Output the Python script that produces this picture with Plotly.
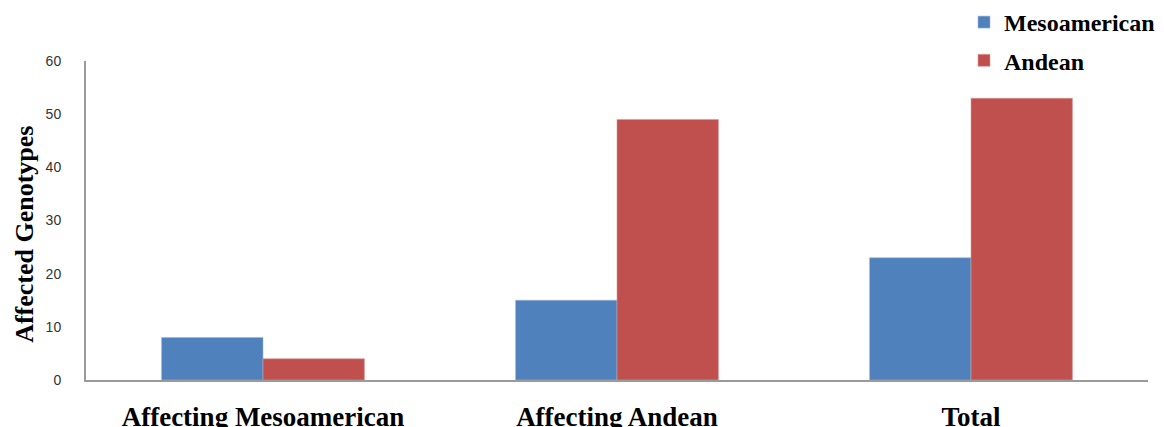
import plotly.graph_objects as go

# Affected genotypes per category, by gene pool
categories = ["Affecting Mesoamerican", "Affecting Andean", "Total"]
mesoamerican = [8, 15, 23]
andean = [4, 49, 53]
y_ticks = [0, 10, 20, 30, 40, 50, 60]

BLUE = "#4F81BD"
RED = "#C0504D"
SERIF = "Liberation Serif, Times New Roman, serif"
SANS = "Liberation Sans, Arial, sans-serif"

fig = go.Figure()
fig.add_trace(go.Bar(
    name="Mesoamerican", x=categories, y=mesoamerican,
    marker=dict(color=BLUE, line=dict(color="#9db6d9", width=0.6)),
    legendgroup="m",
))
fig.add_trace(go.Bar(
    name="Andean", x=categories, y=andean,
    marker=dict(color=RED, line=dict(color="#dc9896", width=0.6)),
    legendgroup="a",
))

fig.update_layout(
    width=1164, height=427,
    margin=dict(l=86, r=16, t=61, b=47, autoexpand=False),
    paper_bgcolor="white", plot_bgcolor="white",
    barmode="group", bargap=0.427, bargroupgap=0,
    showlegend=True,
    legend=dict(
        xref="container", yref="container",
        x=964 / 1164, y=1, xanchor="left", yanchor="top",
        font=dict(family=SERIF, size=24, color="#000000", weight="bold"),
        tracegroupgap=4, bgcolor="rgba(0,0,0,0)",
        itemclick=False,
    ),
    xaxis=dict(
        showline=True, linecolor="#9a9a9a", linewidth=2,
        showgrid=False, ticks="", zeroline=False,
        tickfont=dict(family=SERIF, size=27, color="#000000", weight="bold"),
        ticklabelstandoff=12,
    ),
    yaxis=dict(
        range=[0, 60], tickvals=y_ticks,
        showline=True, linecolor="#9a9a9a", linewidth=2,
        showgrid=False, ticks="", zeroline=False,
        tickfont=dict(family=SANS, size=14, color="#333333"),
        ticklabelstandoff=20,
    ),
    annotations=[dict(
        text="<b>Affected Genotypes</b>", textangle=-90,
        xref="paper", yref="paper", x=0, y=0.455,
        xanchor="center", yanchor="middle", xshift=-61, showarrow=False,
        font=dict(family=SERIF, size=26, color="#000000"),
    )],
)

fig.write_html("out.html")
